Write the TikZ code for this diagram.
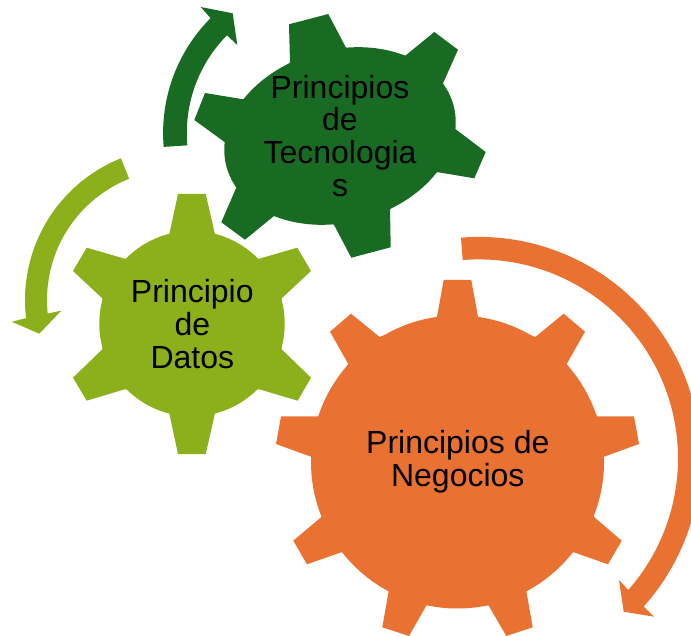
\documentclass[tikz,border=0pt]{standalone}
\usepackage{fontspec}
\setmainfont{Liberation Sans}
\definecolor{gearorange}{HTML}{E97132}
\definecolor{gearlime}{HTML}{8BB01C}
\definecolor{geardark}{HTML}{196B24}
\tikzset{
  gearlabel/.style={font=\fontsize{32}{32.8}\selectfont,align=center,text=black,inner sep=0pt}
}
\begin{document}
\begin{tikzpicture}[x=1pt,y=-1pt]
\useasboundingbox (0,0) rectangle (691,636);
\clip (0,0) rectangle (691,636);
% dark green arrow
\fill[geardark] plot[domain=175.1:224.9,samples=50] ({325.8+162.7*cos(\x)},{133+162.7*sin(\x)})
  -- (200.7,7) -- (232.7,13.3) -- (237.3,45) -- (226.7,35)
  -- plot[domain=224.7:174.9,samples=50] ({325.8+139*cos(\x)},{133+139*sin(\x)}) -- cycle;
% lime arrow
\fill[gearlime] plot[domain=-111.8:-186.85,samples=60] ({177.6+152.6*cos(\x)},{300+152.6*sin(\x)})
  -- (11.7,321.7) -- (39.3,333.7) -- (61.3,310.7) -- (47,313.7)
  -- plot[domain=-186:-111.8,samples=60] ({177.6+130.6*cos(\x)},{300+130.6*sin(\x)}) -- cycle;
% orange arrow
\fill[gearorange] plot[domain=-94.67:42,samples=100] ({479+221.5*cos(\x)},{458.4+221.5*sin(\x)})
  -- (654,616.7) -- (623.7,611.7) -- (619,580) -- (628.3,590)
  -- plot[domain=41.4:-94.7,samples=100] ({479+199*cos(\x)},{458.4+199*sin(\x)}) -- cycle;
% dark green gear
\fill[geardark,rotate around={15.2:(340,136)}] (340,136) ellipse [x radius=117.6,y radius=86.3];
\fill[geardark] (290,62.7) -- (289,24.3) -- (328.3,14) -- (346,47.7)
  -- (405.3,55.7) -- (434.3,32) -- (458,49.7) -- (443,83.3)
  -- (455.3,129) -- (485.7,152) -- (474.3,178.3) -- (436.7,172)
  -- (390,209) -- (390.7,247.3) -- (351.3,257.7) -- (333.7,224.3)
  -- (274,216) -- (245,239.7) -- (221.3,222.3) -- (236.7,186.7)
  -- (225,142.3) -- (194.3,120) -- (205,93) -- (243.3,99.3) -- cycle;
% lime gear
\fill[gearlime] (192,323.7) circle [radius=92.7];
\fill[gearlime] (169.3,234.3) -- (178,194) -- (205.7,194) -- (215,234.3)
  -- (258.3,259) -- (297.3,247.7) -- (311,271) -- (281.7,298.3)
  -- (281.7,349.3) -- (311,377.7) -- (297.7,400.7) -- (258.3,389)
  -- (215,413.3) -- (205.7,454) -- (178,454) -- (169.3,413.3)
  -- (125.7,389) -- (86.7,400.7) -- (73,377.7) -- (102.3,349.3)
  -- (102.3,298.3) -- (73,271) -- (86.7,247.7) -- (125.7,259) -- cycle;
% orange gear
\fill[gearorange] (457.5,462) circle [radius=146.5];
\fill[gearorange] (437,316.7) -- (443.7,280) -- (471.3,280) -- (478,316.7)
  -- (535.3,337) -- (563.7,313.7) -- (585,331.7) -- (566.7,364)
  -- (597,416.3) -- (634,416.3) -- (639,444) -- (604,456.7)
  -- (593.7,516.7) -- (621.7,540.7) -- (608,564.3) -- (573,552)
  -- (526.3,591) -- (532.7,627.3) -- (506.3,636) -- (488.3,605)
  -- (426.7,605) -- (409,636) -- (382.3,627.3) -- (388.7,591)
  -- (342,552) -- (307,564.3) -- (293.3,540.7) -- (321.7,516.7)
  -- (311,456.7) -- (276,444) -- (281,416.3) -- (318.3,416.3)
  -- (348.3,364) -- (330,331.7) -- (351,313.7) -- (379.7,337) -- cycle;
% labels
\node[gearlabel] (tec) at (340,135.8) {Principios\\de\\Tecnologia\\s};
\node[gearlabel] (dat) at (192.3,324) {Principio\\de\\Datos};
\node[gearlabel] (neg) at (457.8,461.8) {Principios de\\Negocios};
\end{tikzpicture}
\end{document}
